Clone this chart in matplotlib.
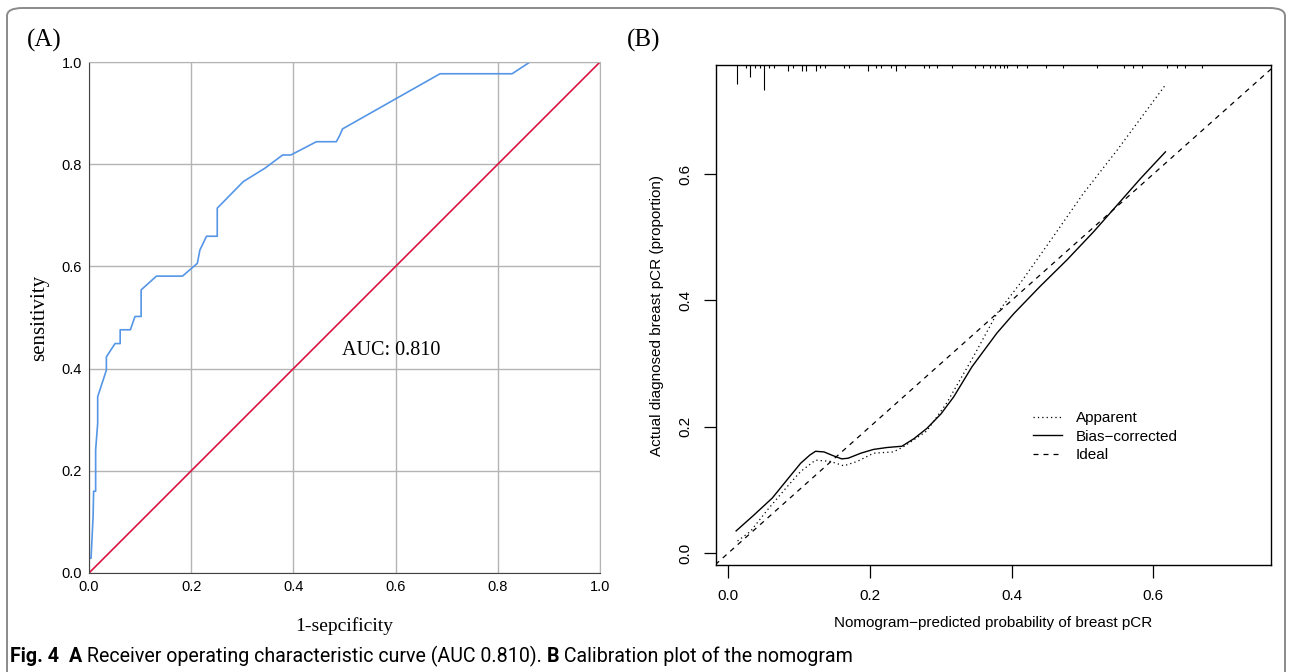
import numpy as np
import matplotlib.pyplot as plt
import matplotlib.transforms as mtransforms
from matplotlib.patches import FancyBboxPatch

# ROC curve (panel A)
roc_fpr = [0.0, 0.0, 0.004, 0.008, 0.009, 0.013, 0.013, 0.017, 0.017, 0.034, 0.034,
           0.051, 0.061, 0.061, 0.081, 0.090, 0.102, 0.102, 0.132, 0.183, 0.212,
           0.217, 0.230, 0.251, 0.251, 0.302, 0.344, 0.379, 0.395, 0.445, 0.484,
           0.491, 0.496, 0.687, 0.828, 0.863, 1.0]
roc_tpr = [0.0, 0.029, 0.029, 0.110, 0.160, 0.160, 0.241, 0.293, 0.345, 0.397, 0.423,
           0.449, 0.449, 0.476, 0.476, 0.502, 0.502, 0.554, 0.581, 0.581, 0.606,
           0.632, 0.659, 0.659, 0.714, 0.766, 0.792, 0.818, 0.818, 0.844, 0.844,
           0.857, 0.869, 0.977, 0.977, 1.0, 1.0]
auc_label = "AUC: 0.810"

# Calibration curves (panel B)
apparent_x = [0.013, 0.031, 0.055, 0.083, 0.102, 0.123, 0.144, 0.163, 0.182, 0.205,
              0.233, 0.247, 0.280, 0.308, 0.346, 0.379, 0.412, 0.455, 0.501, 0.549, 0.617]
apparent_y = [0.019, 0.034, 0.068, 0.105, 0.129, 0.147, 0.145, 0.138, 0.145, 0.158,
              0.160, 0.168, 0.193, 0.237, 0.311, 0.379, 0.427, 0.495, 0.569, 0.638, 0.741]
bias_x = [0.011, 0.036, 0.062, 0.083, 0.102, 0.115, 0.123, 0.135, 0.148, 0.160, 0.169,
          0.187, 0.205, 0.224, 0.245, 0.262, 0.280, 0.300, 0.318, 0.344, 0.379, 0.403,
          0.440, 0.478, 0.516, 0.549, 0.582, 0.617]
bias_y = [0.035, 0.060, 0.087, 0.116, 0.142, 0.155, 0.161, 0.160, 0.154, 0.149, 0.150,
          0.158, 0.164, 0.167, 0.169, 0.181, 0.197, 0.220, 0.247, 0.295, 0.348, 0.379,
          0.422, 0.464, 0.509, 0.551, 0.593, 0.635]

# distribution of predicted probabilities (rug at top)
rug_x = [0.012, 0.025, 0.031, 0.038, 0.044, 0.051, 0.058, 0.065, 0.084, 0.091, 0.104,
         0.110, 0.124, 0.130, 0.137, 0.163, 0.170, 0.197, 0.209, 0.216, 0.230, 0.236,
         0.249, 0.276, 0.283, 0.295, 0.315, 0.348, 0.360, 0.370, 0.377, 0.383, 0.389,
         0.393, 0.407, 0.421, 0.449, 0.473, 0.520, 0.559, 0.571, 0.584, 0.619, 0.633,
         0.645, 0.669]
rug_n = [6, 1, 4, 1, 1, 8, 1, 1, 2, 1, 2, 2, 2, 1, 1, 1, 1, 2, 1, 1, 1, 2, 1, 1, 1,
         1, 1, 1, 1, 1, 1, 1, 1, 1, 1, 1, 1, 1, 1, 1, 1, 1, 1, 1, 1, 1]

legend_labels = ["Apparent", "Bias\u2212corrected", "Ideal"]

W, H = 1292, 672
fig = plt.figure(figsize=(W / 100, H / 100), dpi=100)


def px_axes(x0, y0, x1, y1):
    return fig.add_axes([x0 / W, 1 - y1 / H, (x1 - x0) / W, (y1 - y0) / H])


# outer frame
frame = FancyBboxPatch((7 / W, -0.05), (1285 - 7) / W, 1.05 - 8 / H,
                       boxstyle="round,pad=0,rounding_size=0.012",
                       transform=fig.transFigure, fill=False,
                       edgecolor="#8a8a8a", linewidth=1.4)
fig.patches.append(frame)

serif = ["Liberation Serif", "DejaVu Serif"]
sans = ["Liberation Sans", "DejaVu Sans"]

# ---- Panel A ----
ax1 = px_axes(89, 62, 600, 573)
ax1.plot([0, 1], [0, 1], color="#d9143f", lw=1.2)
ax1.plot(roc_fpr, roc_tpr, color="#5596e6", lw=1.2)
ax1.set_xlim(0, 1)
ax1.set_ylim(0, 1)
ticks = [0.0, 0.2, 0.4, 0.6, 0.8, 1.0]
ax1.set_xticks(ticks)
ax1.set_yticks(ticks)
ax1.set_xticklabels([f"{t:.1f}" for t in ticks], family=sans, fontsize=10.5)
ax1.set_yticklabels([f"{t:.1f}" for t in ticks], family=sans, fontsize=10.5)
ax1.tick_params(length=0, pad=5)
ax1.grid(True, color="#b4b4b4", lw=1)
ax1.set_axisbelow(True)
for s in ["top", "right"]:
    ax1.spines[s].set_color("#b4b4b4")
for s in ["left", "bottom"]:
    ax1.spines[s].set_color("#444444")
ax1.set_xlabel("1-sepcificity", family=serif, fontsize=14, labelpad=17)
ax1.set_ylabel("sensitivity", family=serif, fontsize=15, labelpad=9)
ax1.text(0.591, 0.436, auc_label, family=serif, fontsize=14.5, ha="center", va="center")
fig.text(27 / W, 1 - 40 / H, "(A)", family=serif, fontsize=18, va="center")

# ---- Panel B ----
ax2 = px_axes(715.6, 65, 1271, 565)
ax2.plot([-0.05, 0.8], [-0.05, 0.8], color="black", lw=0.9, ls=(0, (4, 4)))
ax2.plot(apparent_x, apparent_y, color="black", lw=0.9, ls=(0, (1, 2.5)))
ax2.plot(bias_x, bias_y, color="black", lw=1.0)
ax2.set_xlim(-0.018, 0.766)
ax2.set_ylim(-0.019, 0.7725)
trans = mtransforms.blended_transform_factory(ax2.transData, ax2.transAxes)
ax2.vlines(rug_x, [1 - 0.0062 * n for n in rug_n], 1, transform=trans,
           color="black", lw=0.8)
bt = [0.0, 0.2, 0.4, 0.6]
ax2.set_xticks(bt)
ax2.set_yticks(bt)
ax2.set_xticklabels([f"{t:.1f}" for t in bt], family=sans, fontsize=11)
ax2.set_yticklabels([f"{t:.1f}" for t in bt], family=sans, fontsize=11,
                    rotation=90, va="center")
ax2.tick_params(length=9, width=0.9, pad=8)
for s in ax2.spines.values():
    s.set_linewidth(1.0)
ax2.set_xlabel("Nomogram\u2212predicted probability of breast pCR",
               family=sans, fontsize=11, labelpad=10)
ax2.set_ylabel("Actual diagnosed breast pCR (proportion)",
               family=sans, fontsize=11, labelpad=10)
handles = [ax2.lines[1], ax2.lines[2], ax2.lines[0]]
ax2.legend(handles, legend_labels, loc="upper left", bbox_to_anchor=(0.547, 0.335),
           frameon=False, prop={"family": sans, "size": 11},
           handlelength=1.9, handletextpad=0.9, labelspacing=0.3)
fig.text(627 / W, 1 - 40 / H, "(B)", family=serif, fontsize=18, va="center")

# ---- Caption ----
cap_font = ["Roboto", "DejaVu Sans"]
cap_y = 1 - 656 / H
parts = [("Fig. 4", "bold"), ("  ", "normal"), ("A", "bold"),
         (" Receiver operating characteristic curve (AUC 0.810). ", "normal"),
         ("B", "bold"), (" Calibration plot of the nomogram", "normal")]
fig.canvas.draw()
renderer = fig.canvas.get_renderer()
x = 10 / W
for txt, wt in parts:
    t = fig.text(x, cap_y, txt, family=cap_font, fontsize=14.1, weight=wt,
                 va="center")
    bb = t.get_window_extent(renderer=renderer)
    x += bb.width / W

fig.savefig("out.png", dpi=100)
